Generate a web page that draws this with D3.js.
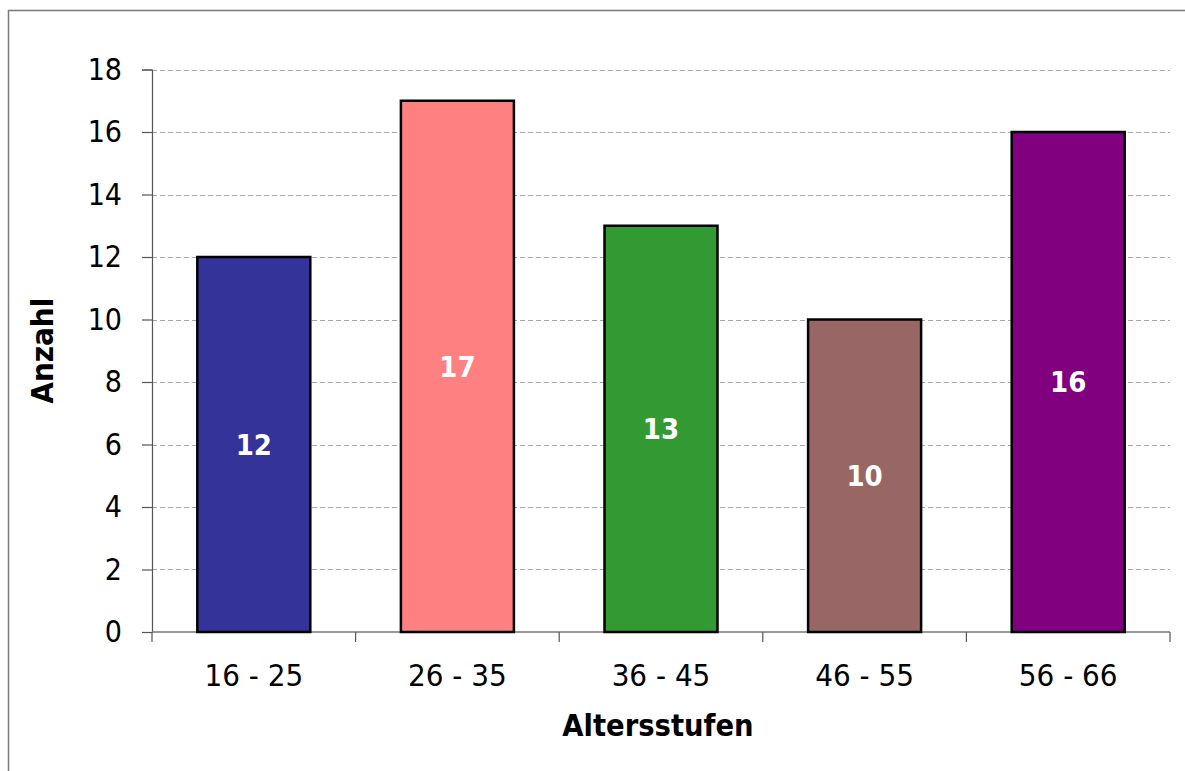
<!DOCTYPE html>
<html>
<head>
<meta charset="utf-8">
<script src="https://cdn.jsdelivr.net/npm/d3@7"></script>
<style>
  html, body { margin: 0; padding: 0; background: #fff; }
  svg { display: block; }
  text { font-family: "DejaVu Sans Condensed", "DejaVu Sans", sans-serif; font-stretch: condensed; }
</style>
</head>
<body>
<svg id="chart" width="1185" height="771"></svg>
<script>
// Age groups and head counts
const categories = ["16 - 25", "26 - 35", "36 - 45", "46 - 55", "56 - 66"];
const counts = [12, 17, 13, 10, 16];
const barColors = ["#333399", "#FF8080", "#339933", "#996666", "#800080"];
const yTicks = [0, 2, 4, 6, 8, 10, 12, 14, 16, 18];
const xTitle = "Altersstufen";
const yTitle = "Anzahl";

const svg = d3.select("#chart");
const W = 1185, H = 771;
const plot = { left: 152, right: 1170, top: 69.5, bottom: 632 };

// Outer frame
svg.append("rect")
  .attr("x", 8.5).attr("y", 10.5)
  .attr("width", W + 20).attr("height", H + 20)
  .attr("fill", "none").attr("stroke", "#7a7a7a").attr("stroke-width", 1.5);

const x = d3.scaleBand().domain(categories)
  .range([plot.left, plot.right]).paddingInner(0.445).paddingOuter(0.2225);
const y = d3.scaleLinear().domain([0, 18]).range([plot.bottom, plot.top]);

// Dashed horizontal gridlines
svg.append("g").selectAll("line")
  .data(yTicks.filter(d => d > 0))
  .join("line")
  .attr("x1", plot.left).attr("x2", plot.right)
  .attr("y1", d => Math.round(y(d)) + 0.5).attr("y2", d => Math.round(y(d)) + 0.5)
  .attr("stroke", "#a6a6a6").attr("stroke-width", 1)
  .attr("stroke-dasharray", "5,3");

// Y axis
const yAxis = svg.append("g")
  .attr("transform", `translate(${plot.left},0)`)
  .call(d3.axisLeft(y).tickValues(yTicks).tickSize(10).tickPadding(20));
yAxis.select(".domain").attr("stroke", "#555").attr("stroke-width", 1.2);
yAxis.selectAll(".tick line").attr("stroke", "#555").attr("stroke-width", 1.2);
yAxis.selectAll(".tick text")
  .attr("font-size", 30).attr("fill", "#000")
  .attr("font-family", "'DejaVu Sans Condensed', 'DejaVu Sans', sans-serif");

// X axis with ticks between categories
const xg = svg.append("g");
xg.append("line")
  .attr("x1", plot.left).attr("x2", plot.right)
  .attr("y1", plot.bottom).attr("y2", plot.bottom)
  .attr("stroke", "#777").attr("stroke-width", 1.5);
const step = x.step();
const bounds = d3.range(categories.length + 1).map(i => plot.left + i * step);
xg.selectAll("line.sep").data(bounds).join("line")
  .attr("class", "sep")
  .attr("x1", d => d).attr("x2", d => d)
  .attr("y1", plot.bottom).attr("y2", plot.bottom + 10)
  .attr("stroke", "#555").attr("stroke-width", 1.2);
xg.selectAll("text").data(categories).join("text")
  .attr("x", d => x(d) + x.bandwidth() / 2)
  .attr("y", 686)
  .attr("text-anchor", "middle")
  .attr("font-size", 31)
  .text(d => d);

// Bars
const data = categories.map((c, i) => ({ cat: c, value: counts[i], color: barColors[i] }));
svg.append("g").selectAll("rect")
  .data(data).join("rect")
  .attr("x", d => x(d.cat))
  .attr("y", d => y(d.value))
  .attr("width", x.bandwidth())
  .attr("height", d => y(0) - y(d.value))
  .attr("fill", d => d.color)
  .attr("stroke", "#000").attr("stroke-width", 2.5);

// Value labels centred in each bar
svg.append("g").selectAll("text")
  .data(data).join("text")
  .attr("x", d => x(d.cat) + x.bandwidth() / 2)
  .attr("y", d => (y(d.value) + y(0)) / 2)
  .attr("dy", "0.36em")
  .attr("text-anchor", "middle")
  .attr("font-size", 29).attr("font-weight", "bold")
  .attr("fill", "#fff")
  .text(d => d.value);

// Axis titles
svg.append("text")
  .attr("x", (plot.left + plot.right) / 2 - 3).attr("y", 736)
  .attr("text-anchor", "middle")
  .attr("font-size", 30.5).attr("font-weight", "bold")
  .text(xTitle);

svg.append("text")
  .attr("transform", `translate(53, ${(plot.top + plot.bottom) / 2}) rotate(-90)`)
  .attr("text-anchor", "middle")
  .attr("font-size", 31).attr("font-weight", "bold")
  .text(yTitle);
</script>
</body>
</html>
